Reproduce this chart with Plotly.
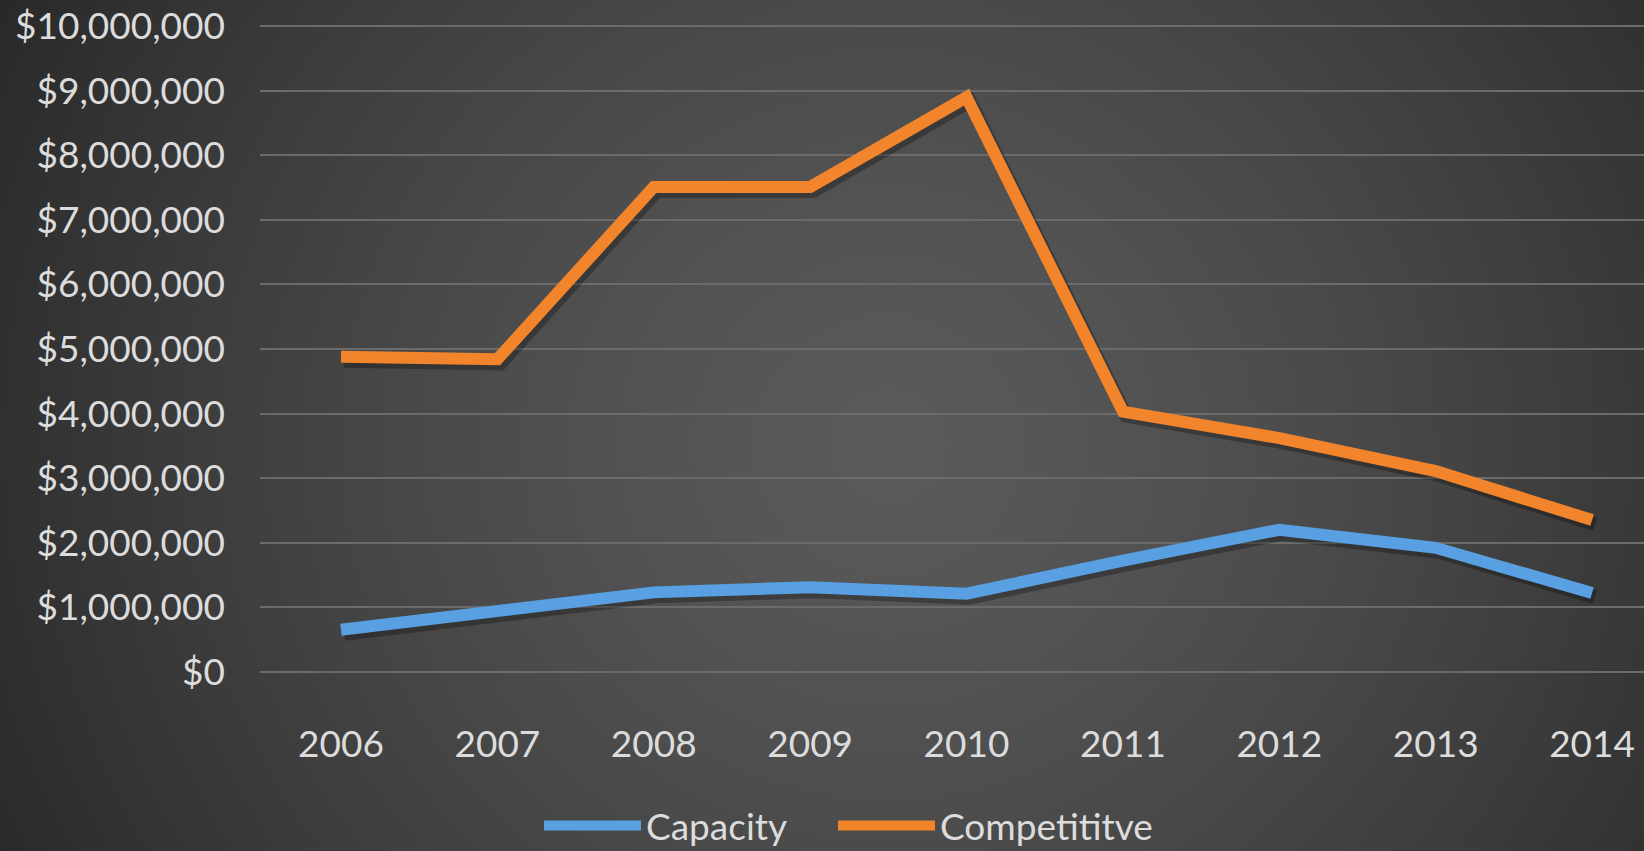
import base64
import struct
import zlib

import numpy as np
import plotly.graph_objects as go

# ---- data ----
years = ["2006", "2007", "2008", "2009", "2010", "2011", "2012", "2013", "2014"]
capacity = [650000, 940000, 1230000, 1310000, 1210000, 1720000, 2200000, 1920000, 1220000]
competitive = [4880000, 4840000, 7510000, 7510000, 8900000, 4030000, 3620000, 3110000, 2350000]
y_ticks = [0, 1000000, 2000000, 3000000, 4000000, 5000000,
           6000000, 7000000, 8000000, 9000000, 10000000]

W, H = 1644, 851
M_L, M_R, M_T, M_B = 260, 0, 23, 176
X_RANGE = [-0.518, 8.332]
Y_RANGE = [-50000, 10050000]


def radial_png(w, h):
    """Grayscale radial-gradient PNG, lighter in the middle, dark at the edges."""
    yy, xx = np.mgrid[0:h, 0:w].astype(float)
    cx, cy = 0.54 * w, 0.52 * h
    rx, ry = 0.62 * w, 1.15 * h
    t = np.sqrt(((xx - cx) / rx) ** 2 + ((yy - cy) / ry) ** 2)
    t = np.clip(t, 0, 1)
    inner, outer = 90.0, 40.0
    g = (inner + (outer - inner) * t ** 1.4).astype(np.uint8)
    raw = b"".join(b"\x00" + g[r].tobytes() for r in range(h))

    def chunk(tag, data):
        c = struct.pack(">I", len(data)) + tag + data
        return c + struct.pack(">I", zlib.crc32(tag + data) & 0xFFFFFFFF)

    png = b"\x89PNG\r\n\x1a\n"
    png += chunk(b"IHDR", struct.pack(">IIBBBBB", w, h, 8, 0, 0, 0, 0))
    png += chunk(b"IDAT", zlib.compress(raw, 9))
    png += chunk(b"IEND", b"")
    return "data:image/png;base64," + base64.b64encode(png).decode()


plot_w = W - M_L - M_R
plot_h = H - M_T - M_B

# shadow axes (drawn first): same scales nudged a few pixels right/down
sx = 3 * (X_RANGE[1] - X_RANGE[0]) / plot_w
sy = 4 * (Y_RANGE[1] - Y_RANGE[0]) / plot_h

fig = go.Figure()
for vals in (capacity, competitive):
    fig.add_trace(go.Scatter(
        x=years, y=vals, mode="lines", showlegend=False, hoverinfo="skip",
        line=dict(color="rgba(0,0,0,0.28)", width=14),
        xaxis="x", yaxis="y",
    ))
fig.add_trace(go.Scatter(
    x=years, y=capacity, name="Capacity", mode="lines",
    line=dict(color="#58a0e2", width=12), legend="legend",
    xaxis="x2", yaxis="y2",
))
fig.add_trace(go.Scatter(
    x=years, y=competitive, name="Competititve", mode="lines",
    line=dict(color="#f2852c", width=12), legend="legend2",
    xaxis="x2", yaxis="y2",
))

font = dict(family="Lato, 'Open Sans', sans-serif", size=37, color="#dcdcdc")


def legend_at(px, py=826):
    # legend boxes positioned in container pixels so they never push margins
    return dict(
        orientation="h", xref="container", yref="container",
        x=px / W, xanchor="left",
        y=1 - py / H, yanchor="middle", font=font,
        bgcolor="rgba(0,0,0,0)", itemwidth=97,
    )


fig.update_layout(
    width=W, height=H,
    margin=dict(l=M_L, r=M_R, t=M_T, b=M_B, pad=0, autoexpand=False),
    paper_bgcolor="#2c2c2c",
    plot_bgcolor="rgba(0,0,0,0)",
    font=font,
    showlegend=True,
    legend=legend_at(539),
    legend2=legend_at(833),
    images=[dict(
        source=radial_png(W // 2, (H + 1) // 2),
        xref="paper", yref="paper",
        x=-M_L / plot_w, y=1 + M_T / plot_h,
        sizex=W / plot_w, sizey=(H + 4) / plot_h,
        xanchor="left", yanchor="top",
        sizing="stretch", layer="below",
    )],
    xaxis=dict(
        type="category", range=[X_RANGE[0] - sx, X_RANGE[1] - sx],
        visible=False, showgrid=False, zeroline=False,
    ),
    yaxis=dict(
        range=[Y_RANGE[0] + sy, Y_RANGE[1] + sy],
        visible=False, showgrid=False, zeroline=False,
    ),
    xaxis2=dict(
        type="category", overlaying="x", side="bottom", range=X_RANGE,
        showgrid=False, zeroline=False, showline=False, ticks="",
        ticklabelstandoff=44, tickfont=font,
    ),
    yaxis2=dict(
        overlaying="y", side="left", range=Y_RANGE,
        tickmode="array", tickvals=y_ticks,
        ticktext=[f"${v:,}" for v in y_ticks],
        showgrid=True, gridcolor="#6b6b6b", gridwidth=1.5,
        zeroline=False, showline=False, ticks="",
        ticklabelstandoff=34, tickfont=font,
    ),
)

fig.write_html("out.html")
